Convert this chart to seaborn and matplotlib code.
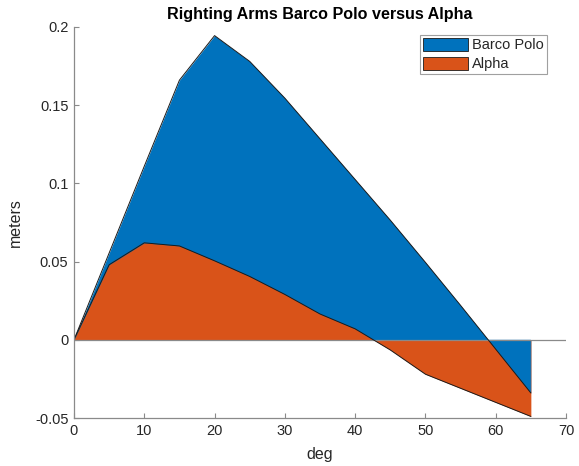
import numpy as np
import pandas as pd
import matplotlib
matplotlib.use("Agg")
import matplotlib.pyplot as plt
import seaborn as sns
from matplotlib.patches import Patch

deg = [0, 5, 10, 15, 20, 25, 30, 35, 40, 45, 50, 55, 60, 65]
barco_polo = [0, 0.0555, 0.111, 0.166, 0.1945, 0.178, 0.1545, 0.1285, 0.1025,
              0.0765, 0.0495, 0.022, -0.006, -0.034]
alpha = [0, 0.048, 0.062, 0.060, 0.0505, 0.0405, 0.029, 0.0165, 0.007,
         -0.0065, -0.022, -0.031, -0.040, -0.049]
series_names = ["Barco Polo", "Alpha"]
xticks = [0, 10, 20, 30, 40, 50, 60, 70]
yticks = [-0.05, 0, 0.05, 0.1, 0.15, 0.2]
ytick_labels = ["-0.05", "0", "0.05", "0.1", "0.15", "0.2"]

sns.set_theme(style="white")
plt.rcParams['font.family'] = ['Liberation Sans', 'DejaVu Sans']

BLUE = "#0072BD"
ORANGE = "#D95319"
AXC = "#8a8a8a"
TXT = "#262626"

df = pd.DataFrame({"deg": deg, "Barco Polo": barco_polo, "Alpha": alpha})

fig = plt.figure(figsize=(5.79, 4.66), dpi=100)
ax = fig.add_axes([74/579, 1-418/466, (566-74)/579, (418-27)/466])

x = np.array(deg, dtype=float)
bp = np.array(barco_polo)
al = np.array(alpha)

ax.fill_between(x, 0, bp, color=BLUE, linewidth=0, zorder=1)
ax.fill_between(x, 0, al, color=ORANGE, linewidth=0, zorder=2)
# blue negative part sits over orange
ax.fill_between(x, 0, bp, where=bp <= 0, interpolate=True, color=BLUE,
                linewidth=0, zorder=3)

sns.lineplot(data=df, x="deg", y="Barco Polo", ax=ax, color="#1a1a1a",
             linewidth=0.7, zorder=5, legend=False)
sns.lineplot(data=df, x="deg", y="Alpha", ax=ax, color="#1a1a1a",
             linewidth=0.7, zorder=5, legend=False)
ax.axhline(0, color=AXC, linewidth=0.9, zorder=4)

ax.set_xlim(0, 70)
ax.set_ylim(-0.05, 0.2)
ax.set_xticks(xticks)
ax.set_xticklabels([str(t) for t in xticks])
ax.set_yticks(yticks)
ax.set_yticklabels(ytick_labels)

for s in ["top", "right"]:
    ax.spines[s].set_visible(False)
for s in ["left", "bottom"]:
    ax.spines[s].set_color(AXC)
    ax.spines[s].set_linewidth(0.9)
    ax.spines[s].set_zorder(6)

ax.tick_params(axis="both", direction="in", length=3.5, width=0.8, color=AXC,
               labelsize=10.5, labelcolor=TXT, pad=4,
               bottom=True, left=True)

ax.set_xlabel("deg", fontsize=11.5, color=TXT, labelpad=7)
ax.set_ylabel("meters", fontsize=11.5, color=TXT, labelpad=9)
ax.set_title("Righting Arms Barco Polo versus Alpha", fontsize=11.6,
             fontweight="bold", color="black", pad=6)

handles = [Patch(facecolor=BLUE, edgecolor="#1a1a1a", linewidth=0.6),
           Patch(facecolor=ORANGE, edgecolor="#1a1a1a", linewidth=0.6)]
leg = ax.legend(handles, series_names, loc="upper right",
                bbox_to_anchor=(547/579, 1-35/466), bbox_transform=fig.transFigure,
                fontsize=10.5, frameon=True, fancybox=False, framealpha=1,
                edgecolor="#a0a0a0", borderpad=0.2, labelspacing=0.3,
                handlelength=3.1, handleheight=1.0, handletextpad=0.3,
                borderaxespad=0)
leg.get_frame().set_linewidth(0.8)
for t in leg.get_texts():
    t.set_color(TXT)

fig.savefig("out.png", dpi=100, facecolor="white")
